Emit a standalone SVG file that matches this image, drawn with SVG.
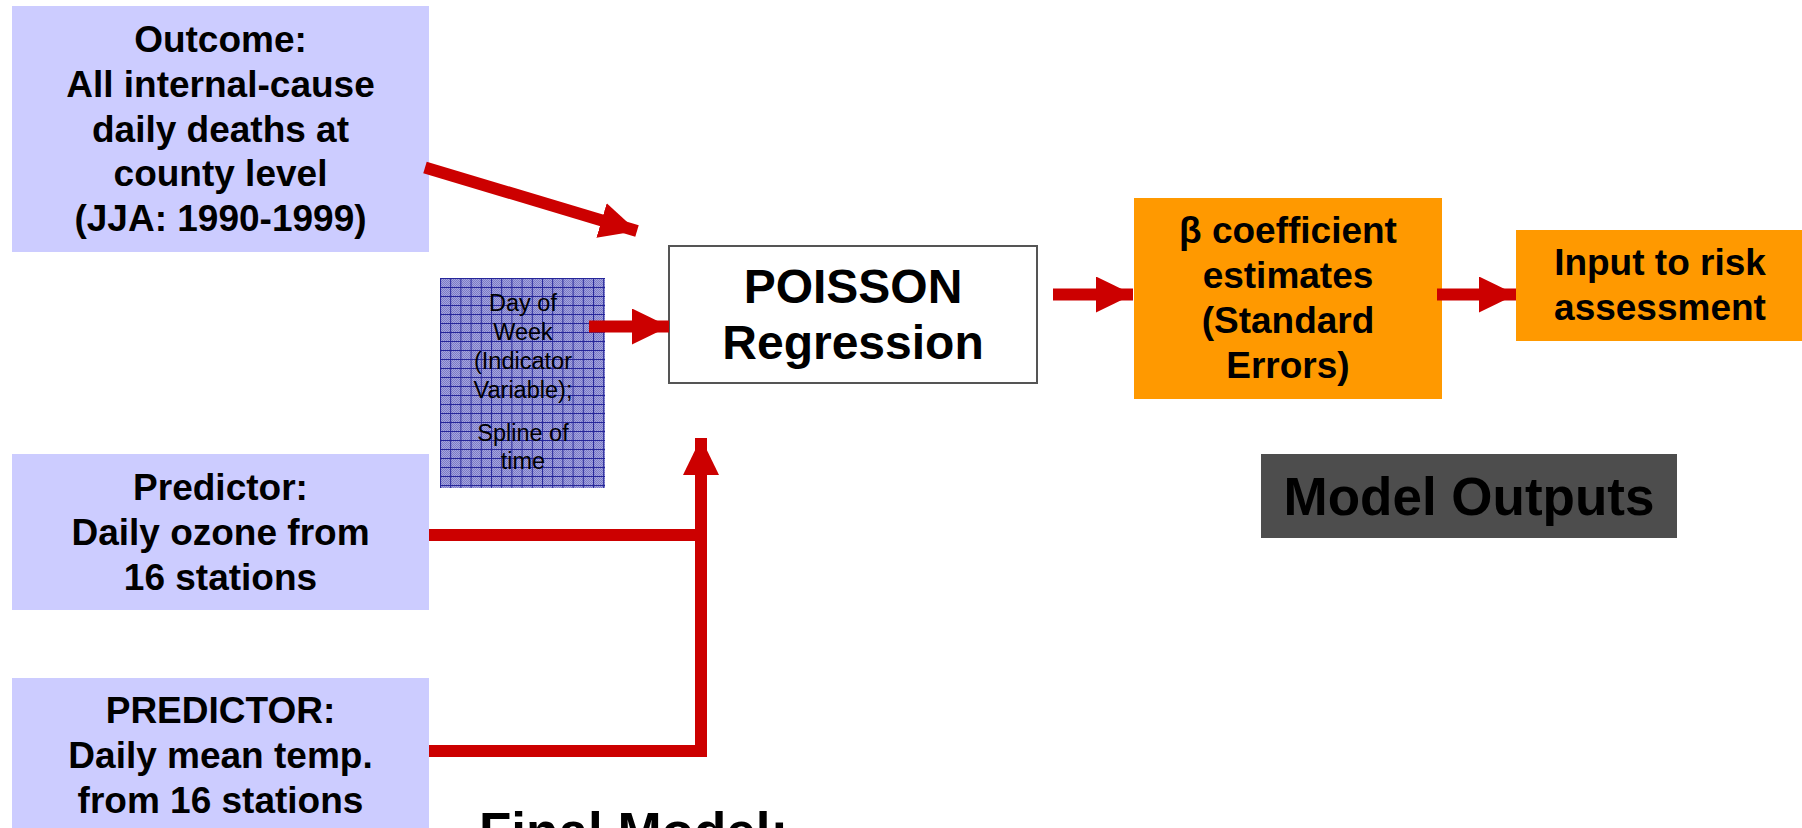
<svg xmlns="http://www.w3.org/2000/svg" width="1802" height="828" viewBox="0 0 1802 828">
<style>
.lav{fill:#CCCCFF}
.org{fill:#FF9900}
.t{font-family:"Liberation Sans",Arial,sans-serif;font-weight:bold;font-size:37px;fill:#000;text-anchor:middle}
.big{font-family:"Liberation Sans",Arial,sans-serif;font-weight:bold;font-size:53px;fill:#000}
.sm{font-family:"Liberation Sans",Arial,sans-serif;font-size:23.5px;fill:#000;text-anchor:middle}
.ln{fill:none;stroke:#CC0000;stroke-width:12;stroke-linecap:butt;stroke-linejoin:miter}
</style>
<defs>
<marker id="ah" markerUnits="userSpaceOnUse" markerWidth="38" markerHeight="38" refX="37" refY="18" orient="auto" viewBox="0 0 38 38">
<path d="M0,0 L37,18 L0,36 z" fill="#CC0000"/>
</marker>
<pattern id="chk" width="2" height="2" patternUnits="userSpaceOnUse">
<rect width="2" height="2" fill="#A4A4E0"/>
<rect width="1" height="1" fill="#7C7CC4"/>
<rect x="1" y="1" width="1" height="1" fill="#7C7CC4"/>
</pattern>
<pattern id="grid" x="440" y="278" width="10.2" height="9" patternUnits="userSpaceOnUse">
<path d="M0.5,0 V9 M0,0.5 H10.2" stroke="#26269A" stroke-width="1" fill="none"/>
</pattern>
</defs>

<g id="outcome">
<rect class="lav" x="12" y="6" width="417" height="246"/>
<text class="t" x="220.5" y="52">Outcome:</text>
<text class="t" x="220.5" y="96.75">All internal-cause</text>
<text class="t" x="220.5" y="141.5">daily deaths at</text>
<text class="t" x="220.5" y="186.25">county level</text>
<text class="t" x="220.5" y="231">(JJA: 1990-1999)</text>
</g>

<g id="dayofweek">
<rect x="440" y="278" width="165" height="210" fill="url(#chk)"/>
<rect x="440" y="278" width="165" height="210" fill="url(#grid)"/>
<text class="sm" x="523" y="311">Day of</text>
<text class="sm" x="523" y="340">Week</text>
<text class="sm" x="523" y="369">(Indicator</text>
<text class="sm" x="523" y="398">Variable);</text>
<text class="sm" x="523" y="441">Spline of</text>
<text class="sm" x="523" y="469">time</text>
</g>

<g id="poisson">
<rect x="669" y="246" width="368" height="137" fill="#FFFFFF" stroke="#555555" stroke-width="2"/>
<text class="t" x="853" y="303" style="font-size:48px">POISSON</text>
<text class="t" x="853" y="359" style="font-size:48px">Regression</text>
</g>

<g id="beta">
<rect class="org" x="1134" y="198" width="308" height="201"/>
<text class="t" x="1288" y="243">β coefficient</text>
<text class="t" x="1288" y="288">estimates</text>
<text class="t" x="1288" y="333">(Standard</text>
<text class="t" x="1288" y="378">Errors)</text>
</g>

<g id="input">
<rect class="org" x="1516" y="230" width="286" height="111"/>
<text class="t" x="1660" y="275">Input to risk</text>
<text class="t" x="1660" y="320">assessment</text>
</g>

<g id="modeloutputs">
<rect x="1261" y="454" width="416" height="84" fill="#4D4D4D"/>
<text class="big" x="1469" y="515" text-anchor="middle">Model Outputs</text>
</g>

<g id="predictor">
<rect class="lav" x="12" y="454" width="417" height="156"/>
<text class="t" x="220.5" y="500">Predictor:</text>
<text class="t" x="220.5" y="545">Daily ozone from</text>
<text class="t" x="220.5" y="590">16 stations</text>
</g>

<g id="predictor2">
<rect class="lav" x="12" y="678" width="417" height="150"/>
<text class="t" x="220.5" y="723">PREDICTOR:</text>
<text class="t" x="220.5" y="768">Daily mean temp.</text>
<text class="t" x="220.5" y="813">from 16 stations</text>
</g>

<g id="finalmodel">
<text class="big" x="479" y="850">Final Model:</text>
</g>

<g id="connectors">
<line class="ln" x1="425" y1="167.5" x2="637" y2="231" marker-end="url(#ah)"/>
<line class="ln" x1="589" y1="326.5" x2="669" y2="326.5" stroke-width="11" marker-end="url(#ah)"/>
<line class="ln" x1="1053" y1="294.5" x2="1133" y2="294.5" marker-end="url(#ah)"/>
<line class="ln" x1="1437" y1="294.5" x2="1516" y2="294.5" marker-end="url(#ah)"/>
<path class="ln" d="M429,751 H701 V438" marker-end="url(#ah)"/>
<line class="ln" x1="429" y1="535" x2="707" y2="535"/>
</g>
</svg>
